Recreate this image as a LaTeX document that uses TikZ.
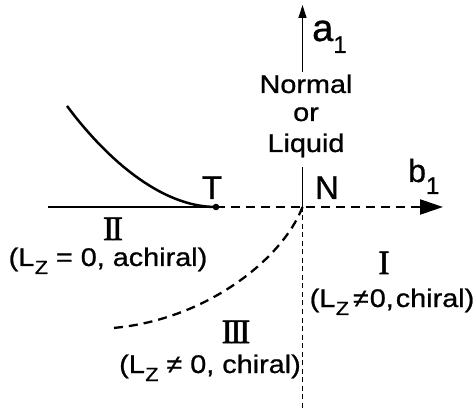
\documentclass[tikz,border=0pt]{standalone}
\usepackage{fontspec}
\setmainfont[FakeBold=0.8]{Liberation Sans}
\newfontfamily\labfont[FakeStretch=1.13,FakeBold=0.9]{Liberation Sans}
\newfontfamily\romfont[FakeBold=1.5]{Liberation Serif}
\usetikzlibrary{arrows.meta}
\newcommand{\lzsub}{L\kern0.5pt\raisebox{-8pt}{\fontsize{19}{19}\selectfont Z}}
\tikzset{
  lab/.style={inner sep=0pt, anchor=base, font=\labfont\fontsize{25.5}{28}\selectfont},
  big/.style={inner sep=0pt, anchor=base, font=\fontsize{33}{35}\selectfont},
  rom/.style={inner sep=0pt, anchor=base, font=\romfont\fontsize{34}{36}\selectfont},
  axisline/.style={line width=1.2pt},
  thickcurve/.style={line width=2.5pt},
  dashcurve/.style={line width=2.3pt, dash pattern=on 9pt off 6pt},
  thindash/.style={line width=1pt, dash pattern=on 5pt off 3.5pt}
}
\begin{document}
\begin{tikzpicture}[x=1pt,y=-1pt]
\useasboundingbox (0,0) rectangle (476,411);
% key points
\coordinate (N) at (302.5,207);
\coordinate (T) at (216,207);
\coordinate (L) at (48,207);
\coordinate (bend) at (443,207);
\coordinate (atop) at (302.5,5);
\coordinate (abot) at (302.5,72);
\coordinate (ntop) at (302.5,167);
\coordinate (vbot) at (302.5,411);
\coordinate (cs) at (67,106);
\coordinate (ds) at (113,328);
% axes
\draw[axisline] (L) -- (T);
\draw[dashcurve, -{Triangle[length=23pt,width=15pt]}] (T) -- (bend);
\draw[axisline] (N) -- (ntop);
\draw[line width=1.2pt, -{Triangle[length=13pt,width=8pt]}] (abot) -- (atop);
\draw[thindash] (N) -- (vbot);
% curves
\draw[thickcurve] (cs) .. controls (105,157) and (160,207) .. (T);
\draw[dashcurve] (N) .. controls (282,260) and (205,320) .. (ds);
\fill (T) circle (3.3pt);
% labels
\node[inner sep=0pt, anchor=base west, font=\fontsize{38}{40}\selectfont] (alab) at (312,41) {a\raisebox{-12pt}{\fontsize{24}{24}\selectfont 1}};
\node[inner sep=0pt, anchor=base west, font=\fontsize{32}{34}\selectfont] (blab) at (408,182) {b\raisebox{-12pt}{\fontsize{24}{24}\selectfont 1}};
\node[big] (tlab) at (212,199) {T};
\node[big] (nlab) at (327,199) {N};
\node[lab] (norm) at (306,93) {Normal};
\node[lab] (or) at (306,121) {or};
\node[lab] (liq) at (306,152) {Liquid};
\node[rom] (r2) at (113,240) {I\kern-2.6ptI};
\node[rom] (r1) at (384,274) {I};
\node[rom] (r3) at (236,343) {I\kern-2.6ptI\kern-2.6ptI};
\node[lab] (t2) at (108,266) {(\lzsub\ = 0, achiral)};
\node[lab] (t1) at (392,307) {(\lzsub\kern4pt≠\kern1pt0,\kern2pt chiral)};
\node[lab] (t3) at (210,373) {(\lzsub\ ≠ 0, chiral)};
\end{tikzpicture}
\end{document}
